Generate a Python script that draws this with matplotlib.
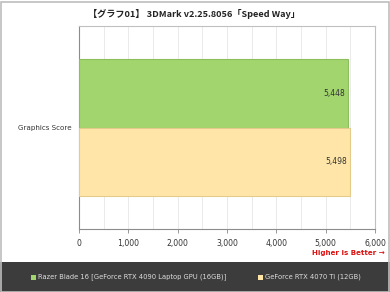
import matplotlib
matplotlib.use("Agg")
import matplotlib.pyplot as plt
from matplotlib.patches import Rectangle

plt.rcParams['font.family'] = ['DejaVu Sans', 'Noto Sans CJK JP']

title = "【グラフ01】 3DMark v2.25.8056「Speed Way」"
category = "Graphics Score"
series_names = ["Razer Blade 16 [GeForce RTX 4090 Laptop GPU (16GB)]",
                "GeForce RTX 4070 Ti (12GB)"]
series_values = [5448, 5498]
series_colors = ["#a3d56f", "#ffe6a8"]
edge_colors = ["#8cbf5c", "#e3cb8c"]
xticks = [0, 1000, 2000, 3000, 4000, 5000, 6000]

fig = plt.figure(figsize=(3.9, 2.92), dpi=100)
ax = fig.add_axes([79/390, 1 - 229/292, 296/390, 203/292])

bar_h = 0.335
ypos = [0.5 + bar_h/2, 0.5 - bar_h/2]
for y, v, c, ec in zip(ypos, series_values, series_colors, edge_colors):
    ax.barh(y, v, height=bar_h, color=c, edgecolor=ec, linewidth=0.8, zorder=3)
    ax.text(v - 60, y, f"{v:,}", ha='right', va='center', fontsize=5.5, color='#333333', zorder=4)

ax.set_xlim(0, 6000)
ax.set_ylim(0, 1)
ax.set_xticks(xticks)
ax.set_xticklabels([f"{t:,}" for t in xticks], fontsize=5.6, color='#333333')
for gx in range(500, 6000, 500):
    ax.axvline(gx, color='#e6e6e6', linewidth=0.6, zorder=1)
ax.set_yticks([0.5])
ax.set_yticklabels([category], fontsize=5.1, color='#333333')
ax.tick_params(axis='y', length=0, pad=5)
ax.tick_params(axis='x', length=3, width=0.6, color='#888888', pad=4)
for s in ['top', 'right']:
    ax.spines[s].set_color('#c0c0c0')
    ax.spines[s].set_linewidth(0.8)
for s in ['left', 'bottom']:
    ax.spines[s].set_color('#8c8c8c')
    ax.spines[s].set_linewidth(0.8)

fig.text(194/390, 1 - 14/292, title, ha='center', va='center', fontsize=6.6,
         fontweight='bold', color='#222222', family=['Noto Sans CJK JP', 'DejaVu Sans'])
fig.text(385/390, 1 - 253/292, "Higher is Better →", ha='right', va='center',
         fontsize=5.1, fontweight='bold', color='#dd1111')

# legend band
fig.patches.append(Rectangle((0, 0), 1, 30/292, transform=fig.transFigure,
                             facecolor='#3c3c3c', edgecolor='none', zorder=0))
leg_x = [31/390, 258/390]
for lx, name, c in zip(leg_x, series_names, series_colors):
    fig.patches.append(Rectangle((lx, 1 - 280/292), 5/390, 5/292, transform=fig.transFigure,
                                 facecolor=c, edgecolor='none', zorder=1))
    fig.text(lx + 7/390, 1 - 277/292, name, ha='left', va='center', fontsize=4.9, color='#dddddd')

# outer border
fig.patches.append(Rectangle((0.5/390, 0.5/292), 388/390, 290/292, transform=fig.transFigure,
                             facecolor='none', edgecolor='#bdbdbd', linewidth=1.2, zorder=2))

fig.savefig("out.png", dpi=100)
